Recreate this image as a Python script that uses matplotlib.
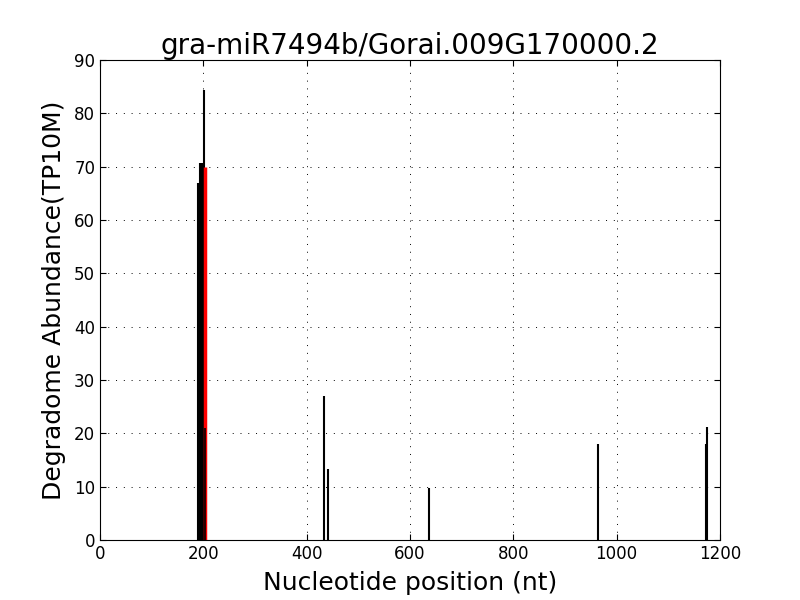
import matplotlib
matplotlib.use('Agg')
import matplotlib.pyplot as plt

# degradome tags (black) and the cleavage site (red)
positions = [190, 191, 192, 193, 194, 195, 196, 197, 198, 199, 200, 201, 434, 442, 637, 963, 1173, 1174]
abundance = [67.0, 67.0, 67.0, 67.0, 70.7, 70.7, 70.7, 70.7, 70.7, 70.7, 70.7, 84.4, 27.0, 13.4, 9.8, 18.0, 18.0, 21.2]
cleave_pos = [203]
cleave_abund = [70.0]
small_pos = [204]
small_abund = [21.0]

title = 'gra-miR7494b/Gorai.009G170000.2'

fig, ax = plt.subplots(figsize=(8, 6), dpi=100)
fig.subplots_adjust(left=0.125, right=0.9, bottom=0.1, top=0.9)

ax.vlines(positions, 0, abundance, colors='black', linewidth=1.5, zorder=3)
ax.vlines(cleave_pos, 0, cleave_abund, colors='red', linewidth=2.5, zorder=3)
ax.vlines(small_pos, 0, small_abund, colors='black', linewidth=1.2, zorder=4)

ax.set_xlim(0, 1200)
ax.set_ylim(0, 90)
ax.set_xticks(range(0, 1201, 200))
ax.set_yticks(range(0, 91, 10))
ax.tick_params(direction='in', top=True, right=True, labelsize=12, length=4)
ax.grid(True, color='black', linestyle=(0, (1, 7)), linewidth=0.7)
ax.set_title(title, fontsize=20, pad=4)
ax.set_xlabel('Nucleotide position (nt)', fontsize=18, labelpad=6)
ax.set_ylabel('Degradome Abundance(TP10M)', fontsize=18, labelpad=6)

fig.savefig('out.png', dpi=100)
